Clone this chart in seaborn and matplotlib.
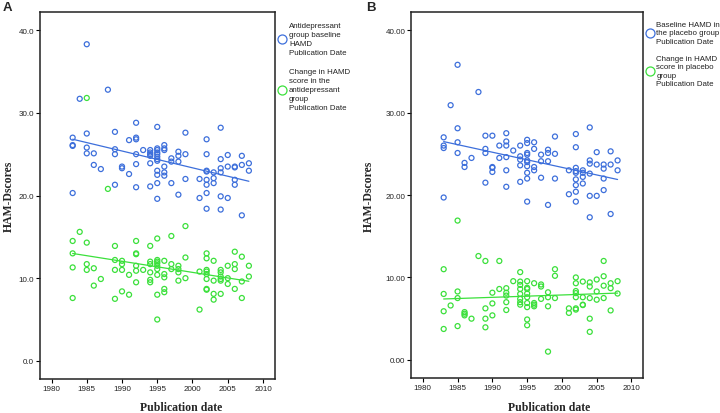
import numpy as np
import pandas as pd
import matplotlib
matplotlib.use('Agg')
import matplotlib.pyplot as plt
from matplotlib.lines import Line2D
import seaborn as sns

# values, year -> scores
a_base = {1983: [27.0, 26.1, 26.0, 20.3], 1984: [31.7], 1985: [38.3, 27.5, 25.8, 25.1],
          1986: [25.1, 23.7], 1987: [23.2], 1988: [32.8], 1989: [27.7, 25.6, 25.0, 21.3],
          1990: [23.5, 23.3], 1991: [26.7, 22.6], 1992: [28.8, 27.0, 26.8, 25.0, 23.8, 21.0],
          1993: [25.5], 1994: [25.5, 25.2, 25.0, 24.8, 23.9, 21.1],
          1995: [28.3, 25.7, 25.5, 25.2, 25.0, 24.7, 24.4, 24.2, 23.0, 22.5, 21.5, 19.6],
          1996: [26.1, 25.7, 25.5, 23.5, 22.8, 22.4], 1997: [24.5, 24.1, 21.5],
          1998: [25.3, 24.8, 24.1, 20.1], 1999: [27.6, 25.0, 22.0], 2001: [22.0, 19.7],
          2002: [26.8, 25.0, 23.0, 22.9, 21.9, 21.3, 20.3, 18.4], 2003: [22.8, 22.1, 21.5],
          2004: [28.2, 24.4, 23.3, 22.8, 19.9, 18.3], 2005: [24.9, 23.5, 19.7],
          2006: [23.5, 23.4, 21.9, 21.3], 2007: [24.8, 23.7, 17.6], 2008: [23.9, 23.0]}

a_change = {1983: [14.5, 13.0, 11.3, 7.6], 1984: [15.6], 1985: [31.8, 14.3, 11.7, 11.0],
            1986: [11.2, 9.1], 1987: [9.9], 1988: [20.8], 1989: [13.9, 12.2, 11.0, 7.5],
            1990: [12.1, 11.7, 11.0, 8.4], 1991: [10.4, 8.0],
            1992: [14.5, 13.0, 12.9, 11.5, 10.9, 9.5], 1993: [11.0],
            1994: [13.9, 12.0, 11.7, 10.7, 9.8, 9.5],
            1995: [14.8, 12.2, 12.0, 11.8, 11.5, 11.1, 10.4, 8.0, 5.0],
            1996: [12.1, 10.5, 10.1, 8.7, 8.3], 1997: [15.1, 11.7, 11.1],
            1998: [11.5, 11.1, 10.7, 9.7], 1999: [16.3, 12.5, 10.0], 2001: [10.8, 6.2],
            2002: [13.0, 12.4, 11.0, 10.8, 10.5, 9.9, 8.7, 8.6], 2003: [12.1, 9.7, 8.1, 7.4],
            2004: [11.0, 10.7, 10.2, 9.9, 9.7, 8.1], 2005: [11.5, 10.0, 9.3],
            2006: [13.2, 11.7, 11.1, 8.7], 2007: [12.6, 9.6, 7.6], 2008: [11.5, 10.2]}

b_base = {1983: [27.0, 26.0, 25.7, 19.7], 1984: [30.9], 1985: [35.8, 28.1, 26.4, 25.1],
          1986: [23.9, 23.4], 1987: [24.5], 1988: [32.5], 1989: [27.2, 25.6, 25.1, 21.5],
          1990: [27.2, 23.4, 23.3, 22.8], 1991: [26.0, 24.5],
          1992: [27.5, 26.5, 26.0, 24.6, 23.0, 21.0], 1993: [25.4],
          1994: [26.0, 24.7, 24.3, 23.6, 21.6],
          1995: [26.7, 26.3, 25.1, 24.9, 24.2, 24.0, 23.5, 22.7, 22.0, 19.2],
          1996: [26.4, 25.6, 23.4, 23.0], 1997: [24.9, 24.1, 22.1],
          1998: [25.5, 25.1, 24.1, 18.8], 1999: [27.1, 25.0, 22.0], 2001: [23.0, 20.1],
          2002: [27.4, 25.8, 23.3, 22.9, 22.7, 21.9, 21.2, 20.4, 19.2],
          2003: [23.0, 22.7, 22.2, 21.4], 2004: [28.2, 24.2, 23.8, 22.6, 19.9, 17.3],
          2005: [25.2, 23.7, 19.9], 2006: [23.7, 23.2, 22.0, 20.6],
          2007: [25.3, 23.7, 17.7], 2008: [24.2, 23.0]}

b_change = {1983: [11.0, 8.0, 5.9, 3.75], 1984: [6.6], 1985: [16.9, 8.3, 7.5, 4.1],
            1986: [5.8, 5.6, 5.4], 1987: [5.0], 1988: [12.6], 1989: [12.0, 6.25, 5.0, 3.95],
            1990: [8.15, 6.85, 5.4], 1991: [12.0, 8.6], 1992: [8.7, 8.15, 7.8, 7.0, 6.05],
            1993: [9.55], 1994: [10.65, 9.5, 9.1, 8.6, 8.0, 7.4, 7.0, 6.7],
            1995: [9.55, 8.75, 8.6, 8.05, 7.6, 6.9, 6.4, 4.9, 4.2],
            1996: [9.3, 6.9, 6.7, 6.5], 1997: [9.15, 8.9, 7.4], 1998: [8.2, 7.6, 6.5, 1.0],
            1999: [11.0, 10.2, 7.5], 2001: [6.25, 5.7],
            2002: [10.0, 9.3, 8.35, 8.1, 7.6, 6.25, 6.1], 2003: [9.5, 7.6, 6.7, 6.65],
            2004: [9.4, 8.9, 7.5, 5.0, 3.4], 2005: [9.75, 8.3, 7.3],
            2006: [12.0, 10.15, 9.0, 7.5], 2007: [9.3, 8.7, 6.0], 2008: [9.55, 8.05]}

a_labels = ['Antidepressant\ngroup baseline\nHAMD\nPublication Date',
            'Change in HAMD\nscore in the\nantidepressant\ngroup\nPublication Date']
b_labels = ['Baseline HAMD in\nthe placebo group\nPublication Date',
            'Change in HAMD\nscore in placebo\ngroup\nPublication Date']
y_ticks = [0, 10, 20, 30, 40]
x_ticks = [1980, 1985, 1990, 1995, 2000, 2005, 2010]

BLUE = '#3d6fdb'
GREEN = '#3be03b'


def to_frame(d):
    rows = [(yr, v) for yr, vals in d.items() for v in vals]
    return pd.DataFrame(rows, columns=['year', 'score'])


sns.set_style('white')
plt.rcParams['font.family'] = ['Liberation Sans', 'DejaVu Sans']

W, H = 720, 414
fig = plt.figure(figsize=(7.2, 4.14), dpi=100)
ax_a = fig.add_axes([0.0549, 0.0821, 0.327, 0.8865])
ax_b = fig.add_axes([0.5708, 0.0845, 0.3227, 0.884])


def panel(ax, base, change, fmt):
    for d, col in [(base, BLUE), (change, GREEN)]:
        df = to_frame(d)
        sns.regplot(data=df, x='year', y='score', ax=ax, ci=None, color=col,
                    scatter_kws=dict(facecolors='none', s=13, linewidths=0.9, alpha=1),
                    line_kws=dict(linewidth=0.9))
    ax.set_xlim(1978.3, 2011.7)
    ax.set_ylim(-2.2, 42.2)
    ax.set_xticks(x_ticks)
    ax.set_yticks(y_ticks)
    ax.set_yticklabels([fmt % t for t in y_ticks])
    ax.tick_params(axis='both', labelsize=5.8, length=3, width=0.8, pad=1,
                   bottom=True, left=True, color='black', labelcolor='#222222')
    ax.set_xlabel('')
    ax.set_ylabel('')
    for s in ax.spines.values():
        s.set_color('#222222')
        s.set_linewidth(1.1)


def side_legend(labels, hx, tx, centers, lsp):
    # key placed beside the panel, pixel positions from the top-left corner
    for lab, col, cy in zip(labels, (BLUE, GREEN), centers):
        fig.add_artist(Line2D([hx / W], [1 - cy / H], transform=fig.transFigure,
                              marker='o', ls='none', mfc='none', mec=col, ms=6.5, mew=0.9))
        fig.text(tx / W, 1 - cy / H, lab, fontsize=5.7, ha='left', va='center',
                 linespacing=lsp, color='#222222')


panel(ax_a, a_base, a_change, '%.1f')
panel(ax_b, b_base, b_change, '%.2f')
side_legend(a_labels, 282, 289, (40, 90.5), 1.36)
side_legend(b_labels, 650, 656.5, (33.7, 72), 1.28)

serif = ['Liberation Serif', 'DejaVu Serif']
for x0, xc in [(0, 181), (360, 549)]:
    fig.text(xc / W, 1 - 408 / H, 'Publication date', family=serif, weight='bold',
             fontsize=8.5, ha='center', va='center')
    fig.text((x0 + 9) / W, 1 - 196 / H, 'HAM-Dscores', family=serif, weight='bold',
             fontsize=8.5, ha='center', va='center', rotation=90)
fig.text(3 / W, 1 - 2 / H, 'A', fontsize=9.5, weight='bold', va='top', ha='left')
fig.text(366 / W, 1 - 2 / H, 'B', fontsize=9.5, weight='bold', va='top', ha='left')

fig.savefig('out.png', dpi=100)
